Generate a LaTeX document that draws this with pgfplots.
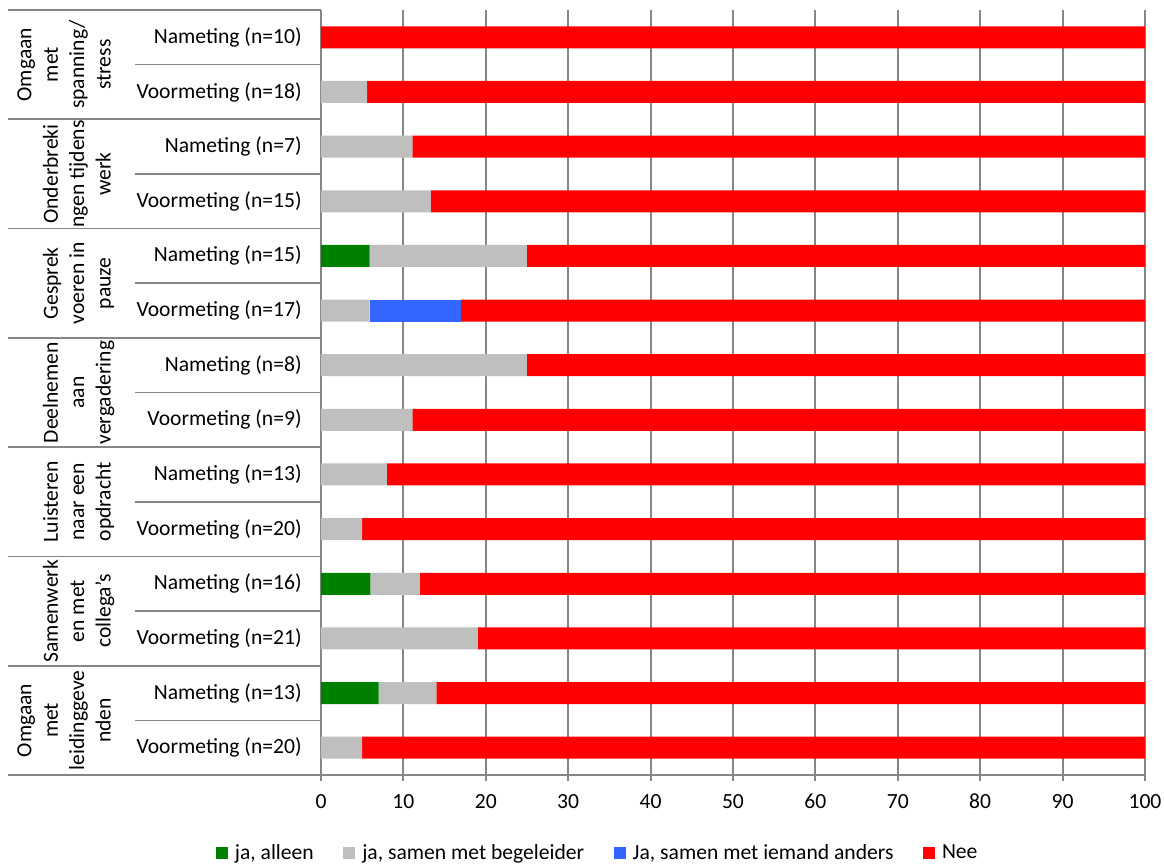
\documentclass[border=0pt]{standalone}
\usepackage{fontspec}
\setmainfont{Carlito}
\usepackage{pgfplots}
\usepackage{pgfplotstable}
\pgfplotsset{compat=1.18}
\definecolor{cgreen}{HTML}{008000}
\definecolor{cgray}{HTML}{BFBFBF}
\definecolor{cblue}{HTML}{3366FF}
\definecolor{cred}{HTML}{FF0000}
\definecolor{lgray}{HTML}{868686}

% y = row from top; values in percent
\pgfplotstableread{
y alleen begel anders nee
0  0   0    0    100
1  0   5.6  0    94.4
2  0   11.1 0    88.9
3  0   13.3 0    86.7
4  5.9 19.1 0    75
5  0   5.9  11.1 83
6  0   25   0    75
7  0   11.1 0    88.9
8  0   8    0    92
9  0   5    0    95
10 6   6    0    88
11 0   19   0    81
12 7   7    0    86
13 0   5    0    95
}\data

\begin{document}
\begin{tikzpicture}[font=\fontsize{10.8}{13.2}\selectfont]
\useasboundingbox (-160.5pt,-44.5pt) rectangle (421.5pt,387.5pt);
\begin{axis}[
  scale only axis,
  width=412pt, height=382.5pt,
  xbar stacked,
  bar width=11pt,
  xmin=0, xmax=100,
  ymin=-0.5, ymax=13.5,
  y dir=reverse,
  xtick={0,10,...,100},
  ytick={0,...,13},
  yticklabels={Nameting (n=10), Voormeting (n=18), Nameting (n=7), Voormeting (n=15),
    Nameting (n=15), Voormeting (n=17), Nameting (n=8), Voormeting (n=9),
    Nameting (n=13), Voormeting (n=20), Nameting (n=16), Voormeting (n=21),
    Nameting (n=13), Voormeting (n=20)},
  ytick style={draw=none},
  yticklabel style={anchor=east, inner sep=0pt, xshift=-6.5pt},
  xtick style={lgray, line width=1pt},
  tick align=outside,
  major tick length=3pt,
  xticklabel style={yshift=-3pt},
  /pgf/number format/assume math mode=true,
  axis x line*=bottom,
  axis y line*=left,
  axis line style={lgray, line width=1pt},
  xmajorgrids,
  grid style={lgray, line width=1pt},
  clip=false,
  legend columns=4,
  legend style={at={(axis description cs:0.337,-0.102)}, anchor=center,
    draw=none, fill=none, inner sep=0pt,
    /tikz/every even column/.append style={column sep=12.75pt},
    /tikz/every odd column/.append style={column sep=1.5pt}},
  legend cell align=left,
]
\addplot[fill=cgreen, draw=none, legend image code/.code={\fill[cgreen] (0pt,-3pt) rectangle (6pt,3pt);}]
  table[x=alleen, y=y]{\data};
\addlegendentry{ja, alleen}
\addplot[fill=cgray, draw=none, legend image code/.code={\fill[cgray] (0pt,-3pt) rectangle (6pt,3pt);}]
  table[x=begel, y=y]{\data};
\addlegendentry{ja, samen met begeleider}
\addplot[fill=cblue, draw=none, legend image code/.code={\fill[cblue] (0pt,-3pt) rectangle (6pt,3pt);}]
  table[x=anders, y=y]{\data};
\addlegendentry{Ja, samen met iemand anders}
\addplot[fill=cred, draw=none, legend image code/.code={\fill[cred] (0pt,-3pt) rectangle (6pt,3pt);}]
  table[x=nee, y=y]{\data};
\addlegendentry{Nee}

% group labels
\tikzset{grp/.style={rotate=90, anchor=south, align=center, inner sep=0pt, text depth=3pt}}
\node[grp] at ([xshift=-102pt]axis cs:0,0.5) {Omgaan\\met\\spanning/\\stress};
\node[grp] at ([xshift=-102pt]axis cs:0,2.5) {Onderbreki\\ngen tijdens\\werk};
\node[grp] at ([xshift=-102pt]axis cs:0,4.5) {Gesprek\\voeren in\\pauze};
\node[grp] at ([xshift=-102pt]axis cs:0,6.5) {Deelnemen\\aan\\vergadering};
\node[grp] at ([xshift=-102pt]axis cs:0,8.5) {Luisteren\\naar een\\opdracht};
\node[grp] at ([xshift=-102pt]axis cs:0,10.5) {Samenwerk\\en met\\collega's};
\node[grp] at ([xshift=-102pt]axis cs:0,12.5) {Omgaan\\met\\leidinggeve\\nden};
\end{axis}
% row separators in the label area (axis spans 0..382.5pt for rows -0.5..13.5)
\foreach \b in {-0.5,1.5,...,13.5}
  \draw[lgray, line width=0.8pt] (-156.5pt,{382.5*(13.5-\b)/14*1pt}) -- (0pt,{382.5*(13.5-\b)/14*1pt});
\foreach \b in {0.5,2.5,...,12.5}
  \draw[lgray, line width=0.8pt] (-93pt,{382.5*(13.5-\b)/14*1pt}) -- (0pt,{382.5*(13.5-\b)/14*1pt});
\end{tikzpicture}
\end{document}
